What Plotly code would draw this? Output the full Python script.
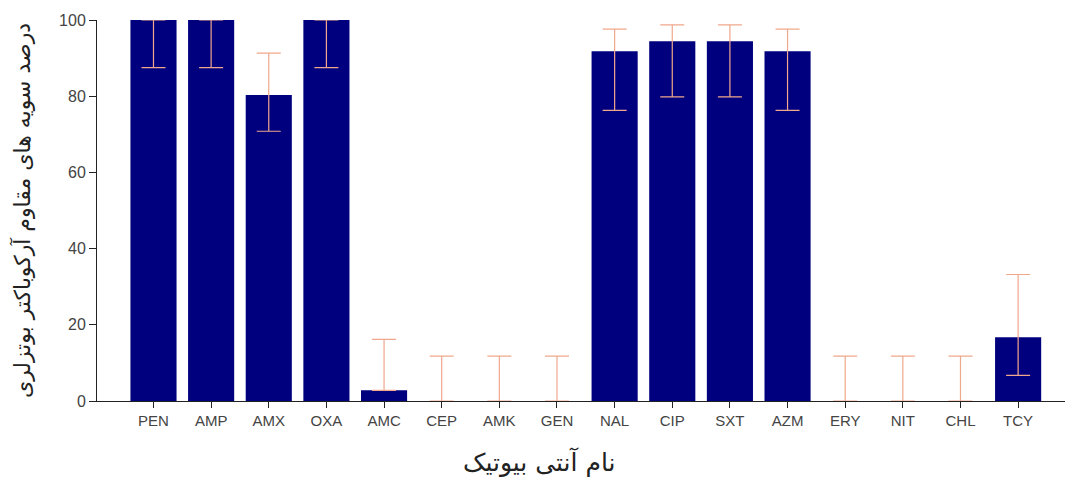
import plotly.graph_objects as go

categories = ["PEN", "AMP", "AMX", "OXA", "AMC", "CEP", "AMK", "GEN",
              "NAL", "CIP", "SXT", "AZM", "ERY", "NIT", "CHL", "TCY"]
values = [100, 100, 80.3, 100, 2.8, 0, 0, 0,
          91.8, 94.4, 94.4, 91.8, 0, 0, 0, 16.7]
err_upper = [0, 0, 11.0, 0, 13.4, 11.8, 11.8, 11.8,
             5.8, 4.3, 4.3, 5.8, 11.8, 11.8, 11.8, 16.5]
err_lower = [12.5, 12.5, 9.5, 12.5, 0, 0, 0, 0,
             15.5, 14.6, 14.6, 15.5, 0, 0, 0, 10.0]

y_title = "درصد سویه های مقاوم آرکوباکتر بوتزلری"
x_title = "نام آنتی بیوتیک"

fig = go.Figure()
fig.add_trace(go.Bar(
    x=categories,
    y=values,
    width=0.8,
    marker=dict(color="#00007f", line=dict(width=0)),
    error_y=dict(type="data", symmetric=False, array=err_upper,
                 arrayminus=err_lower, color="#f0a88c", thickness=1.2, width=12),
    cliponaxis=False,
))

fig.update_layout(
    width=1065, height=471,
    margin=dict(l=89, r=3, t=12, b=78),
    paper_bgcolor="white", plot_bgcolor="white",
    showlegend=False,
    font=dict(family="Liberation Sans Narrow, Arial Narrow, Liberation Sans, sans-serif",
              color="#444444", size=14),
    annotations=[dict(
        text=x_title, xref="paper", yref="paper", x=0.455, y=-0.16,
        xanchor="center", yanchor="middle", showarrow=False,
        font=dict(family="DejaVu Sans", size=25, color="#222222"),
    )],
)
fig.update_xaxes(
    range=[-0.98, 15.9],
    showline=True, linecolor="#222222", linewidth=1,
    ticks="outside", ticklen=6, tickcolor="#222222",
    tickfont=dict(size=15, color="#444444"),
    showgrid=False, zeroline=False,
)
fig.update_yaxes(
    range=[0, 100],
    tickvals=[0, 20, 40, 60, 80, 100],
    showline=True, linecolor="#222222", linewidth=1,
    ticks="outside", ticklen=7, tickcolor="#222222",
    tickfont=dict(size=16, color="#444444"),
    showgrid=False, zeroline=False,
    title=dict(text=y_title, standoff=22,
               font=dict(family="DejaVu Sans", size=22, color="#222222")),
)

fig.write_html("out.html")
